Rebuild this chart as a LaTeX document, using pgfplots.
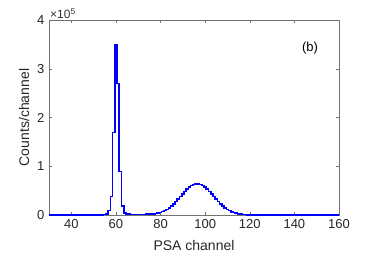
\documentclass[border=0pt]{standalone}
\usepackage{pgfplots}
\pgfplotsset{compat=1.18}
\usepackage{fontspec}
\setmainfont{Liberation Sans}
\pgfplotstableread{
x y
30 0
40 0
50 0
53 200
54 500
55 1000
56 2500
57 9000
58 38000
59 169000
60 349000
61 270000
62 89000
63 19000
64 4000
65 2000
66 1500
67 1200
68 1000
69 900
70 900
71 1000
72 1100
73 1300
74 1500
75 1700
76 2100
77 2600
78 3200
79 4000
80 5200
81 6800
82 8900
83 11600
84 14800
85 18500
86 22800
87 27400
88 32500
89 37800
90 43000
91 48200
92 52900
93 57000
94 60400
95 62700
96 63900
97 63900
98 62700
99 60400
100 57000
101 52900
102 48200
103 43000
104 37800
105 32500
106 27400
107 22800
108 18500
109 14800
110 11600
111 8900
112 6700
113 5000
114 3600
115 2600
116 1800
117 1200
118 850
119 550
120 360
121 230
122 150
123 100
124 60
125 30
130 0
160 0
}\datatable
\begin{document}
\fontsize{13bp}{15bp}\selectfont
\begin{tikzpicture}[x=1bp,y=1bp]
\useasboundingbox (-49bp,-41bp) rectangle (325bp,215bp);
\begin{axis}[
  at={(0,0)}, anchor=south west,
  scale only axis, width=290bp, height=195bp,
  xmin=30, xmax=160, ymin=0, ymax=400000,
  xtick={40,60,...,160},
  ytick={0,100000,200000,300000,400000},
  yticklabels={0,1,2,3,4},
  scaled y ticks=false,
  tick align=inside,
  major tick length=3bp,
  axis line style={black!55},
  tick style={black!55},
  every tick label/.append style={font=\fontsize{13bp}{15bp}\selectfont, text=black!85},
  /pgf/number format/assume math mode=true,
  xlabel={PSA channel}, ylabel={Counts/channel},
  label style={font=\fontsize{14bp}{16bp}\selectfont, text=black!85},
  xlabel style={yshift=-3bp},
  ylabel style={yshift=-1bp},
  clip=false,
]
\addplot[const plot mark mid, blue, line width=1.6bp] table[x=x,y=y] {\datatable};
\node[anchor=south west, text=black!80, inner sep=1bp, font=\fontsize{12bp}{14bp}\selectfont] at (rel axis cs:0,1) {×10\textsuperscript{5}};
\node[font=\fontsize{13bp}{15bp}\selectfont] at (axis cs:147,343000) {(b)};
\end{axis}
\end{tikzpicture}
\end{document}
